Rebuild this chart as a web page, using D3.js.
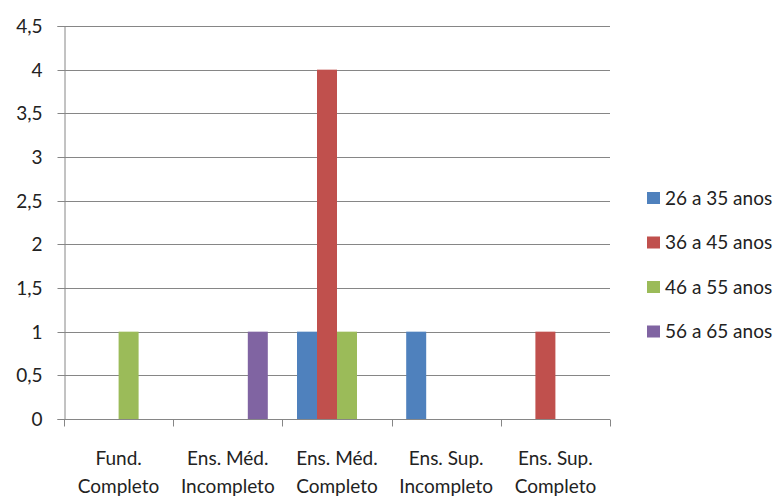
<!DOCTYPE html>
<html>
<head>
<meta charset="utf-8">
<script src="https://cdn.jsdelivr.net/npm/d3@7"></script>
<style>
  html, body { margin: 0; padding: 0; background: #fff; }
  svg text { font-family: Lato, "Open Sans", sans-serif; fill: #222; }
</style>
</head>
<body>
<svg id="chart" width="781" height="499"></svg>
<script>
// Escolaridade por faixa etária
const categories = [
  ["Fund.", "Completo"],
  ["Ens. Méd.", "Incompleto"],
  ["Ens. Méd.", "Completo"],
  ["Ens. Sup.", "Incompleto"],
  ["Ens. Sup.", "Completo"]
];
const seriesNames = ["26 a 35 anos", "36 a 45 anos", "46 a 55 anos", "56 a 65 anos"];
const seriesColors = ["#4F81BD", "#C0504D", "#9BBB59", "#8064A2"];
const age26to35 = [0, 0, 1, 1, 0];
const age36to45 = [0, 0, 4, 0, 1];
const age46to55 = [1, 0, 1, 0, 0];
const age56to65 = [0, 1, 0, 0, 0];
const seriesValues = [age26to35, age36to45, age46to55, age56to65];
const yTicks = [0, 0.5, 1, 1.5, 2, 2.5, 3, 3.5, 4, 4.5];

const svg = d3.select("#chart");
const plotLeft = 64, plotRight = 610, plotTop = 26, plotBottom = 419;
const fontSize = 19;

const x0 = d3.scaleBand().domain(d3.range(categories.length)).range([plotLeft, plotRight]).paddingInner(0).paddingOuter(0);
const x1 = d3.scaleBand().domain(d3.range(seriesNames.length))
  .range([0, x0.bandwidth()]).paddingOuter(0.73).paddingInner(0);
const y = d3.scaleLinear().domain([0, 4.5]).range([plotBottom, plotTop]);

const fmt = v => String(v).replace(".", ",");

// horizontal gridlines
svg.append("g").selectAll("line").data(yTicks.filter(t => t > 0)).join("line")
  .attr("x1", plotLeft).attr("x2", plotRight)
  .attr("y1", d => Math.round(y(d)) + 0.5).attr("y2", d => Math.round(y(d)) + 0.5)
  .attr("stroke", "#868686").attr("stroke-width", 1);

// y axis
const yAxis = svg.append("g").attr("transform", `translate(${plotLeft + 0.5},0)`)
  .call(d3.axisLeft(y).tickValues(yTicks).tickFormat(fmt).tickSize(7).tickPadding(15));
yAxis.select(".domain").attr("stroke", "#868686");
yAxis.selectAll(".tick line").attr("stroke", "#868686");
yAxis.selectAll(".tick text").attr("font-size", fontSize).attr("font-family", "Lato, sans-serif").attr("fill", "#222");
yAxis.selectAll(".tick").attr("transform", d => `translate(0,${Math.round(y(d)) + 0.5})`);

// bars
const groups = svg.append("g").selectAll("g").data(categories).join("g")
  .attr("transform", (d, i) => `translate(${x0(i)},0)`);
groups.selectAll("rect")
  .data((d, i) => seriesValues.map((vals, s) => ({ s, v: vals[i] })))
  .join("rect")
  .attr("x", d => x1(d.s))
  .attr("width", x1.bandwidth())
  .attr("y", d => y(d.v))
  .attr("height", d => y(0) - y(d.v))
  .attr("fill", d => seriesColors[d.s]);

// x axis
const xAxisG = svg.append("g").attr("transform", `translate(0,${plotBottom + 0.5})`);
xAxisG.append("line").attr("x1", plotLeft).attr("x2", plotRight).attr("stroke", "#868686");
xAxisG.selectAll(".tk").data(d3.range(categories.length + 1)).join("line")
  .attr("class", "tk")
  .attr("x1", i => Math.round(plotLeft + i * x0.bandwidth()) + 0.5)
  .attr("x2", i => Math.round(plotLeft + i * x0.bandwidth()) + 0.5)
  .attr("y1", 0).attr("y2", 7)
  .attr("stroke", "#868686");
const labels = svg.append("g").selectAll("text").data(categories).join("text")
  .attr("x", (d, i) => x0(i) + x0.bandwidth() / 2)
  .attr("y", 465)
  .attr("text-anchor", "middle")
  .attr("font-size", fontSize);
labels.append("tspan").attr("x", (d, i) => x0(i) + x0.bandwidth() / 2).text(d => d[0]);
labels.append("tspan").attr("x", (d, i) => x0(i) + x0.bandwidth() / 2).attr("dy", 28).text(d => d[1]);

// legend
const legend = svg.append("g").selectAll("g").data(seriesNames).join("g")
  .attr("transform", (d, i) => `translate(647,${198 + i * 44.5})`);
legend.append("rect").attr("x", 0).attr("y", -6).attr("width", 13).attr("height", 12)
  .attr("fill", (d, i) => seriesColors[i]);
legend.append("text").attr("x", 18).attr("y", 0).attr("dy", "0.35em")
  .attr("font-size", fontSize).text(d => d);
</script>
</body>
</html>
